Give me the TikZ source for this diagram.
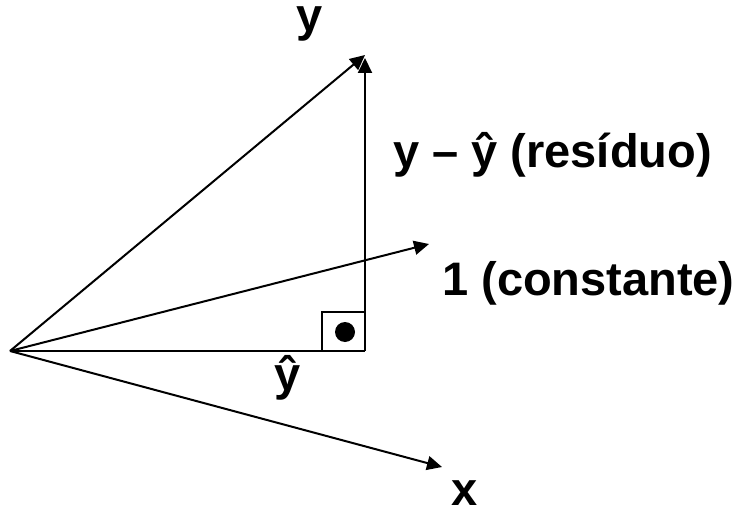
\documentclass[tikz,border=0pt]{standalone}
\usepackage{fontspec}
\setmainfont{Liberation Sans}
\usetikzlibrary{arrows.meta,positioning}

\begin{document}
\begin{tikzpicture}[x=1pt,y=-1pt,>={Triangle[length=15pt,width=14pt]},
    vec/.style={->,line width=2pt},
    lbl/.style={inner sep=0pt,font=\fontsize{47}{56}\selectfont\bfseries}]
        \useasboundingbox (0,0) rectangle (744,513);
        \coordinate (O) at (10,351);
        \coordinate (F) at (365,351);
        \coordinate (Y) at (365,55);
        \coordinate (T) at (365,58);
        \coordinate (C) at (429,244);
        \coordinate (X) at (442,467);
        \draw[line width=2pt] (O) -- (F);
        \foreach \p in {Y,C,X}
          \draw[vec] (O) -- (\p);
        \draw[vec] (F) -- (T);
        \draw[line width=2pt] (322,351) |- (365,312);
        \fill (345,332) circle(10pt);
        \node[lbl,anchor=base] (ylab) at (310,32) {y};
        \node[lbl,anchor=base west] (reslab) at (393,168) {y – ŷ (resíduo)};
        \node[lbl,anchor=base west] (constlab) at (442,295) {1 (constante)};
        \node[lbl,anchor=base] (yhatlab) at (288,390) {ŷ};
        \node[lbl,anchor=base] (xlab) at (465,505) {x};
      \end{tikzpicture}
\end{document}
